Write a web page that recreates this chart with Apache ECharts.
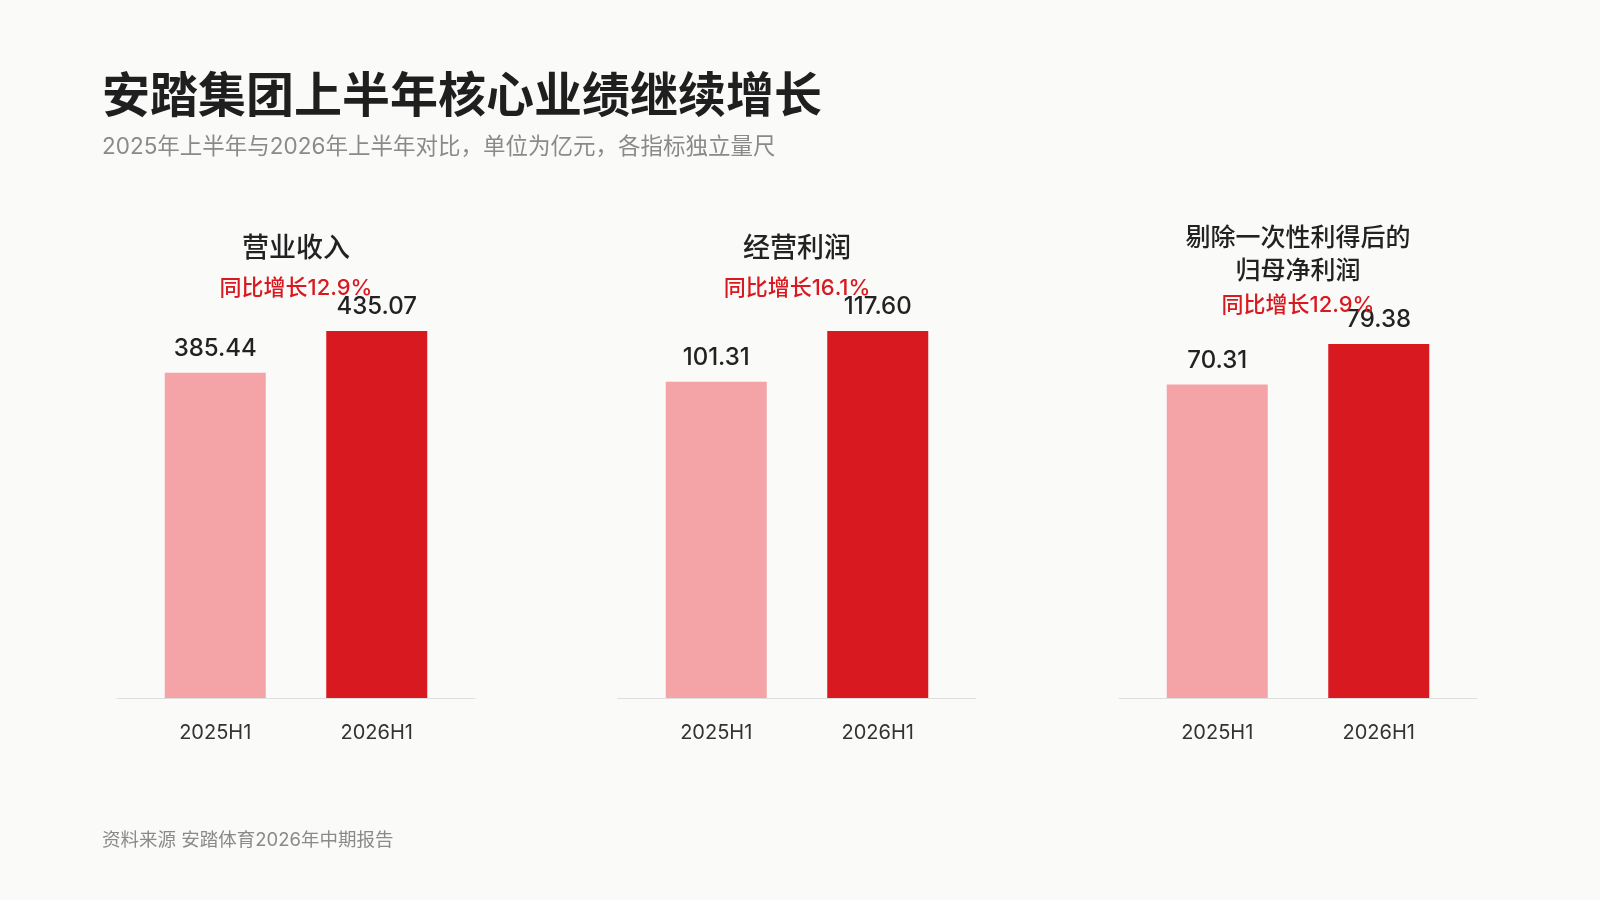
<!DOCTYPE html>
<html>
<head>
<meta charset="utf-8">
<script src="https://cdn.jsdelivr.net/npm/echarts@6/dist/echarts.min.js"></script>
<style>
html, body { margin: 0; padding: 0; background: #fafaf9; }
#main { width: 1600px; height: 900px; }
</style>
</head>
<body>
<div id="main"></div>
<script>
var categories = ['2025H1', '2026H1'];
var panelNames = ['营业收入', '经营利润', '剔除一次性利得后的\n归母净利润'];
var revenue = [385.44, 435.07];
var opProfit = [101.31, 117.60];
var netProfit = [70.31, 79.38];
var growth = ['同比增长12.9%', '同比增长16.1%', '同比增长12.9%'];

var seriesData = [revenue, opProfit, netProfit];
var cjk = '"Noto Sans CJK SC", sans-serif';
var font = 'Inter, "Noto Sans CJK SC", sans-serif';
var lightColor = '#f4a3a6';
var darkColor = '#d81920';

// panel layout (axis line spans the full panel, bars sit in a narrower grid)
var panelLeft = [117, 618, 1119];
var panelWidth = 358;
var barGridWidth = 323;
var panelTop = [331, 331, 344];
var titleTop = [230, 230, 220];
var titleSize = [27, 27, 25];
var growthTop = [274, 274, 291];

var titles = [
    { text: '安踏集团上半年核心业绩继续增长', left: 102, top: 66, padding: 0,
      textStyle: { fontFamily: cjk, fontSize: 48, fontWeight: 'bold', color: '#1f1f1f', lineHeight: 56 } },
    { text: '2025年上半年与2026年上半年对比，单位为亿元，各指标独立量尺', left: 102, top: 133, padding: 0,
      textStyle: { fontFamily: font, fontSize: 22.5, fontWeight: 'normal', color: '#8a8a8a', lineHeight: 28 } },
    { text: '资料来源 安踏体育2026年中期报告', left: 102, top: 828, padding: 0,
      textStyle: { fontFamily: font, fontSize: 18.5, fontWeight: 'normal', color: '#8a8a8a', lineHeight: 24 } }
];
var grids = [], xAxes = [], yAxes = [], series = [];

for (var i = 0; i < 3; i++) {
    var cx = panelLeft[i] + panelWidth / 2;
    titles.push({
        text: panelNames[i], left: cx, top: titleTop[i], textAlign: 'center', padding: 0,
        textStyle: { fontFamily: cjk, fontSize: titleSize[i], fontWeight: 500, color: '#222', lineHeight: 33 }
    });
    titles.push({
        text: growth[i], left: cx, top: growthTop[i], textAlign: 'center', padding: 0,
        textStyle: { fontFamily: font, fontSize: 22, fontWeight: 500, color: darkColor, lineHeight: 28 }
    });

    // bar grid
    grids.push({ left: cx - barGridWidth / 2, width: barGridWidth, top: panelTop[i], bottom: 202 });
    xAxes.push({
        type: 'category', gridIndex: 2 * i, data: categories,
        axisLine: { show: false },
        axisTick: { show: false },
        axisLabel: { margin: 25, fontFamily: font, fontSize: 20, color: '#333' }
    });
    yAxes.push({
        type: 'value', gridIndex: 2 * i, min: 0, max: function (v) { return v.max; },
        show: false, splitLine: { show: false }
    });
    series.push({
        type: 'bar', xAxisIndex: 2 * i, yAxisIndex: 2 * i, barWidth: 101,
        data: seriesData[i].map(function (v, j) {
            return { value: v, itemStyle: { color: j === 0 ? lightColor : darkColor } };
        }),
        label: {
            show: true, position: 'top', distance: 12,
            fontFamily: font, fontSize: 24, fontWeight: 500, color: '#222',
            formatter: function (p) { return p.value.toFixed(2); }
        },
        silent: true
    });

    // baseline grid: only the axis line across the full panel
    grids.push({ left: panelLeft[i], width: panelWidth, top: panelTop[i], bottom: 202 });
    xAxes.push({
        type: 'category', gridIndex: 2 * i + 1, data: [''],
        axisLine: { show: true, lineStyle: { color: '#dedede', width: 1 } },
        axisTick: { show: false },
        axisLabel: { show: false }
    });
    yAxes.push({ type: 'value', gridIndex: 2 * i + 1, show: false, splitLine: { show: false } });
}

var myChart = echarts.init(document.getElementById('main'));
myChart.setOption({
    backgroundColor: '#fafaf9',
    animation: false,
    title: titles,
    grid: grids,
    xAxis: xAxes,
    yAxis: yAxes,
    series: series
});
</script>
</body>
</html>
